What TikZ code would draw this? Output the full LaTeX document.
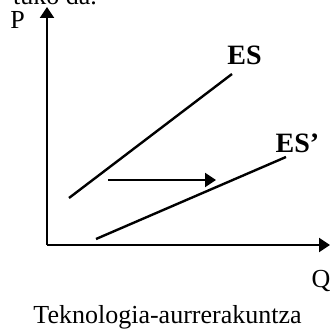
\documentclass[tikz,border=0pt]{standalone}
\usepackage{fontspec}
\setmainfont{Liberation Serif}
\usetikzlibrary{arrows.meta}
\begin{document}
\begin{tikzpicture}[x=1pt,y=1pt,font=\fontsize{26}{30}\selectfont]
\tikzset{
  axis/.style={line width=2.2pt,-{Triangle[length=11pt,width=14pt]}},
  curve/.style={line width=2.4pt},
  lbl/.style={anchor=base,inner sep=0pt},
  curvelbl/.style={lbl,font=\fontsize{28}{30}\selectfont\bfseries}
}
\useasboundingbox (0,0) rectangle (331,332);

% text cut off above the picture
\node[anchor=base east,inner sep=0pt] (prev) at (97,327) {tuko da.};

% axes
\coordinate (o) at (47,87);
\coordinate (ytip) at (47,325);
\coordinate (xtip) at (330,87);
\draw[axis] (o) -- (ytip);
\draw[axis] (o) -- (xtip);
\node[lbl] (plbl) at (17.5,303) {P};
\node[lbl] (qlbl) at (321,44) {Q};

% supply curves
\coordinate (es1) at (69,134);
\coordinate (es2) at (232,258);
\coordinate (esp1) at (96,93);
\coordinate (esp2) at (286,175);
\draw[curve] (es1) -- (es2);
\draw[curve] (esp1) -- (esp2);
\node[curvelbl] (eslbl) at (244.5,267) {ES};
\node[curvelbl] (esplbl) at (297.5,179) {ES’};

% shift
\coordinate (sh1) at (108,152);
\coordinate (sh2) at (216,152);
\draw[axis] (sh1) -- (sh2);

\node[lbl] (caption) at (167.5,9) {Teknologia-aurrerakuntza};
\end{tikzpicture}
\end{document}
